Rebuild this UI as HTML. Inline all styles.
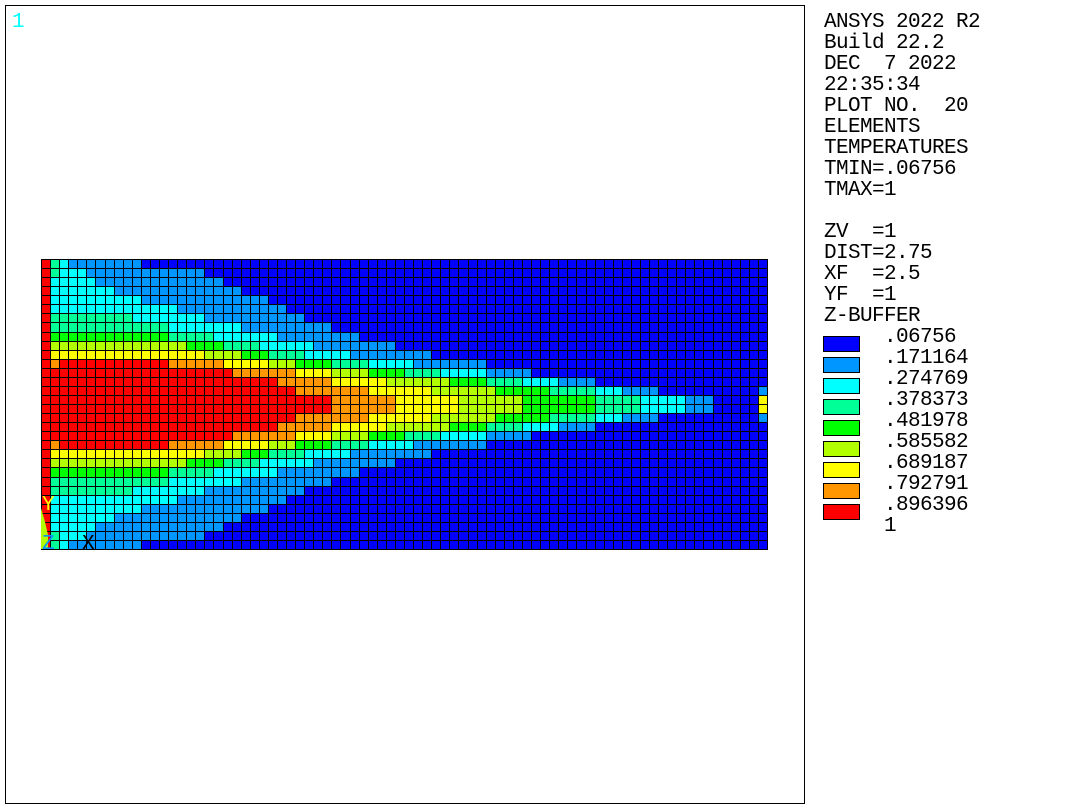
<!DOCTYPE html>
<html lang="en">
<head>
<meta charset="utf-8">
<title>ANSYS element temperatures</title>
<style>
html,body{margin:0;padding:0;background:#fff;width:1077px;height:810px;overflow:hidden}
svg{display:block}
text{font-family:"Liberation Mono",monospace;font-size:21px;letter-spacing:-0.6px;white-space:pre}
</style>
</head>
<body>
<svg id="plot" width="1077" height="810" viewBox="0 0 1077 810" xmlns="http://www.w3.org/2000/svg">
<rect x="5.5" y="5.5" width="799" height="798" fill="#fff" stroke="#000" stroke-width="1" shape-rendering="crispEdges"/>
<text x="12" y="27" fill="#00ffff">1</text>
<g id="heatmap"></g>
<polygon points="41,508 45,522 48,535 48,549 41,549" fill="#b2ff00"/>
<text x="42" y="510" fill="#ffff00">Y</text>
<text x="42" y="549" fill="#0096ff">Z</text>
<text x="82" y="549" fill="#000">X</text>
<g fill="#000">
<text x="824" y="27">ANSYS 2022 R2</text>
<text x="824" y="48">Build 22.2</text>
<text x="824" y="69">DEC  7 2022</text>
<text x="824" y="90">22:35:34</text>
<text x="824" y="111">PLOT NO.  20</text>
<text x="824" y="132">ELEMENTS</text>
<text x="824" y="153">TEMPERATURES</text>
<text x="824" y="174">TMIN=.06756</text>
<text x="824" y="195">TMAX=1</text>
<text x="824" y="237">ZV  =1</text>
<text x="824" y="258">DIST=2.75</text>
<text x="824" y="279">XF  =2.5</text>
<text x="824" y="300">YF  =1</text>
<text x="824" y="321">Z-BUFFER</text>
</g>
<g id="legend"></g>
</svg>
<script>
const legendLabels = [".06756", ".171164", ".274769", ".378373", ".481978", ".585582", ".689187", ".792791", ".896396", "1"];
const bandColors = ["#0000ff", "#0096ff", "#00ffff", "#00ff96", "#00ff00", "#b2ff00", "#ffff00", "#ff9600", "#ff0000"];
const temperatureBands = [
[8,3,2,1,1,1,1,1,1,1,1,0,0,0,0,0,0,0,0,0,0,0,0,0,0,0,0,0,0,0,0,0,0,0,0,0,0,0,0,0,0,0,0,0,0,0,0,0,0,0,0,0,0,0,0,0,0,0,0,0,0,0,0,0,0,0,0,0,0,0,0,0,0,0,0,0,0,0,0,0],
[8,3,2,2,2,1,1,1,1,1,1,1,1,1,1,1,1,1,0,0,0,0,0,0,0,0,0,0,0,0,0,0,0,0,0,0,0,0,0,0,0,0,0,0,0,0,0,0,0,0,0,0,0,0,0,0,0,0,0,0,0,0,0,0,0,0,0,0,0,0,0,0,0,0,0,0,0,0,0,0],
[8,2,2,2,2,2,1,1,1,1,1,1,1,1,1,1,1,1,1,1,0,0,0,0,0,0,0,0,0,0,0,0,0,0,0,0,0,0,0,0,0,0,0,0,0,0,0,0,0,0,0,0,0,0,0,0,0,0,0,0,0,0,0,0,0,0,0,0,0,0,0,0,0,0,0,0,0,0,0,0],
[8,2,2,2,2,2,2,2,1,1,1,1,1,1,1,1,1,1,1,1,1,1,0,0,0,0,0,0,0,0,0,0,0,0,0,0,0,0,0,0,0,0,0,0,0,0,0,0,0,0,0,0,0,0,0,0,0,0,0,0,0,0,0,0,0,0,0,0,0,0,0,0,0,0,0,0,0,0,0,0],
[8,2,2,2,2,2,2,2,2,2,2,1,1,1,1,1,1,1,1,1,1,1,1,1,1,0,0,0,0,0,0,0,0,0,0,0,0,0,0,0,0,0,0,0,0,0,0,0,0,0,0,0,0,0,0,0,0,0,0,0,0,0,0,0,0,0,0,0,0,0,0,0,0,0,0,0,0,0,0,0],
[8,2,2,2,2,2,2,2,2,2,2,2,2,2,2,1,1,1,1,1,1,1,1,1,1,1,1,0,0,0,0,0,0,0,0,0,0,0,0,0,0,0,0,0,0,0,0,0,0,0,0,0,0,0,0,0,0,0,0,0,0,0,0,0,0,0,0,0,0,0,0,0,0,0,0,0,0,0,0,0],
[8,3,3,3,3,3,3,3,3,3,2,2,2,2,2,2,2,2,1,1,1,1,1,1,1,1,1,1,1,0,0,0,0,0,0,0,0,0,0,0,0,0,0,0,0,0,0,0,0,0,0,0,0,0,0,0,0,0,0,0,0,0,0,0,0,0,0,0,0,0,0,0,0,0,0,0,0,0,0,0],
[8,3,3,3,3,3,3,3,3,3,3,3,3,3,2,2,2,2,2,2,2,2,1,1,1,1,1,1,1,1,1,1,0,0,0,0,0,0,0,0,0,0,0,0,0,0,0,0,0,0,0,0,0,0,0,0,0,0,0,0,0,0,0,0,0,0,0,0,0,0,0,0,0,0,0,0,0,0,0,0],
[8,4,4,4,4,4,4,4,4,4,4,4,4,4,3,3,3,3,3,2,2,2,2,2,2,2,1,1,1,1,1,1,1,1,1,0,0,0,0,0,0,0,0,0,0,0,0,0,0,0,0,0,0,0,0,0,0,0,0,0,0,0,0,0,0,0,0,0,0,0,0,0,0,0,0,0,0,0,0,0],
[8,5,5,5,5,5,5,5,5,5,5,5,5,5,5,5,4,4,4,4,3,3,3,3,2,2,2,2,2,2,1,1,1,1,1,1,1,1,1,0,0,0,0,0,0,0,0,0,0,0,0,0,0,0,0,0,0,0,0,0,0,0,0,0,0,0,0,0,0,0,0,0,0,0,0,0,0,0,0,0],
[8,6,6,6,6,6,6,6,6,6,6,6,6,6,6,6,6,6,5,5,5,5,4,4,4,3,3,3,3,2,2,2,2,2,1,1,1,1,1,1,1,1,1,0,0,0,0,0,0,0,0,0,0,0,0,0,0,0,0,0,0,0,0,0,0,0,0,0,0,0,0,0,0,0,0,0,0,0,0,0],
[8,7,8,8,8,8,8,8,8,8,8,8,8,8,7,7,7,7,7,7,6,6,6,6,6,5,5,5,4,4,4,4,3,3,3,3,2,2,2,2,2,1,1,1,1,1,1,1,1,0,0,0,0,0,0,0,0,0,0,0,0,0,0,0,0,0,0,0,0,0,0,0,0,0,0,0,0,0,0,0],
[8,8,8,8,8,8,8,8,8,8,8,8,8,8,8,8,8,8,8,8,8,7,7,7,7,7,7,7,6,6,6,6,5,5,5,5,4,4,4,4,3,3,3,3,2,2,2,2,2,1,1,1,1,1,0,0,0,0,0,0,0,0,0,0,0,0,0,0,0,0,0,0,0,0,0,0,0,0,0,0],
[8,8,8,8,8,8,8,8,8,8,8,8,8,8,8,8,8,8,8,8,8,8,8,8,8,8,7,7,7,7,7,7,6,6,6,6,6,6,5,5,5,5,5,5,5,4,4,4,4,3,3,3,3,2,2,2,2,1,1,1,1,0,0,0,0,0,0,0,0,0,0,0,0,0,0,0,0,0,0,0],
[8,8,8,8,8,8,8,8,8,8,8,8,8,8,8,8,8,8,8,8,8,8,8,8,8,8,8,8,7,7,7,7,7,7,7,7,6,6,6,6,6,6,6,5,5,5,5,5,5,5,4,4,4,4,4,4,3,3,3,3,3,2,2,2,1,1,1,1,0,0,0,0,0,0,0,0,0,0,0,1],
[8,8,8,8,8,8,8,8,8,8,8,8,8,8,8,8,8,8,8,8,8,8,8,8,8,8,8,8,8,8,8,8,7,7,7,7,7,7,7,6,6,6,6,6,6,6,5,5,5,5,5,5,5,4,4,4,4,4,4,4,4,3,3,3,3,3,2,2,2,2,2,1,1,1,0,0,0,0,0,6],
[8,8,8,8,8,8,8,8,8,8,8,8,8,8,8,8,8,8,8,8,8,8,8,8,8,8,8,8,8,8,8,8,7,7,7,7,7,7,7,6,6,6,6,6,6,6,5,5,5,5,5,5,5,4,4,4,4,4,4,4,4,3,3,3,3,3,2,2,2,2,2,1,1,1,0,0,0,0,0,6],
[8,8,8,8,8,8,8,8,8,8,8,8,8,8,8,8,8,8,8,8,8,8,8,8,8,8,8,8,7,7,7,7,7,7,7,7,6,6,6,6,6,6,6,5,5,5,5,5,5,5,4,4,4,4,4,4,3,3,3,3,3,2,2,2,1,1,1,1,0,0,0,0,0,0,0,0,0,0,0,1],
[8,8,8,8,8,8,8,8,8,8,8,8,8,8,8,8,8,8,8,8,8,8,8,8,8,8,7,7,7,7,7,7,6,6,6,6,6,6,5,5,5,5,5,5,5,4,4,4,4,3,3,3,3,2,2,2,2,1,1,1,1,0,0,0,0,0,0,0,0,0,0,0,0,0,0,0,0,0,0,0],
[8,8,8,8,8,8,8,8,8,8,8,8,8,8,8,8,8,8,8,8,8,7,7,7,7,7,7,7,6,6,6,6,5,5,5,5,4,4,4,4,3,3,3,3,2,2,2,2,2,1,1,1,1,1,0,0,0,0,0,0,0,0,0,0,0,0,0,0,0,0,0,0,0,0,0,0,0,0,0,0],
[8,7,8,8,8,8,8,8,8,8,8,8,8,8,7,7,7,7,7,7,6,6,6,6,6,5,5,5,4,4,4,4,3,3,3,3,2,2,2,2,2,1,1,1,1,1,1,1,1,0,0,0,0,0,0,0,0,0,0,0,0,0,0,0,0,0,0,0,0,0,0,0,0,0,0,0,0,0,0,0],
[8,6,6,6,6,6,6,6,6,6,6,6,6,6,6,6,6,6,5,5,5,5,4,4,4,3,3,3,3,2,2,2,2,2,1,1,1,1,1,1,1,1,1,0,0,0,0,0,0,0,0,0,0,0,0,0,0,0,0,0,0,0,0,0,0,0,0,0,0,0,0,0,0,0,0,0,0,0,0,0],
[8,5,5,5,5,5,5,5,5,5,5,5,5,5,5,5,4,4,4,4,3,3,3,3,2,2,2,2,2,2,1,1,1,1,1,1,1,1,1,0,0,0,0,0,0,0,0,0,0,0,0,0,0,0,0,0,0,0,0,0,0,0,0,0,0,0,0,0,0,0,0,0,0,0,0,0,0,0,0,0],
[8,4,4,4,4,4,4,4,4,4,4,4,4,4,3,3,3,3,3,2,2,2,2,2,2,2,1,1,1,1,1,1,1,1,1,0,0,0,0,0,0,0,0,0,0,0,0,0,0,0,0,0,0,0,0,0,0,0,0,0,0,0,0,0,0,0,0,0,0,0,0,0,0,0,0,0,0,0,0,0],
[8,3,3,3,3,3,3,3,3,3,3,3,3,3,2,2,2,2,2,2,2,2,1,1,1,1,1,1,1,1,1,1,0,0,0,0,0,0,0,0,0,0,0,0,0,0,0,0,0,0,0,0,0,0,0,0,0,0,0,0,0,0,0,0,0,0,0,0,0,0,0,0,0,0,0,0,0,0,0,0],
[8,3,3,3,3,3,3,3,3,3,2,2,2,2,2,2,2,2,1,1,1,1,1,1,1,1,1,1,1,0,0,0,0,0,0,0,0,0,0,0,0,0,0,0,0,0,0,0,0,0,0,0,0,0,0,0,0,0,0,0,0,0,0,0,0,0,0,0,0,0,0,0,0,0,0,0,0,0,0,0],
[8,2,2,2,2,2,2,2,2,2,2,2,2,2,2,1,1,1,1,1,1,1,1,1,1,1,1,0,0,0,0,0,0,0,0,0,0,0,0,0,0,0,0,0,0,0,0,0,0,0,0,0,0,0,0,0,0,0,0,0,0,0,0,0,0,0,0,0,0,0,0,0,0,0,0,0,0,0,0,0],
[8,2,2,2,2,2,2,2,2,2,2,1,1,1,1,1,1,1,1,1,1,1,1,1,1,0,0,0,0,0,0,0,0,0,0,0,0,0,0,0,0,0,0,0,0,0,0,0,0,0,0,0,0,0,0,0,0,0,0,0,0,0,0,0,0,0,0,0,0,0,0,0,0,0,0,0,0,0,0,0],
[8,2,2,2,2,2,2,2,1,1,1,1,1,1,1,1,1,1,1,1,1,1,0,0,0,0,0,0,0,0,0,0,0,0,0,0,0,0,0,0,0,0,0,0,0,0,0,0,0,0,0,0,0,0,0,0,0,0,0,0,0,0,0,0,0,0,0,0,0,0,0,0,0,0,0,0,0,0,0,0],
[8,2,2,2,2,2,1,1,1,1,1,1,1,1,1,1,1,1,1,1,0,0,0,0,0,0,0,0,0,0,0,0,0,0,0,0,0,0,0,0,0,0,0,0,0,0,0,0,0,0,0,0,0,0,0,0,0,0,0,0,0,0,0,0,0,0,0,0,0,0,0,0,0,0,0,0,0,0,0,0],
[8,3,2,2,2,1,1,1,1,1,1,1,1,1,1,1,1,1,0,0,0,0,0,0,0,0,0,0,0,0,0,0,0,0,0,0,0,0,0,0,0,0,0,0,0,0,0,0,0,0,0,0,0,0,0,0,0,0,0,0,0,0,0,0,0,0,0,0,0,0,0,0,0,0,0,0,0,0,0,0],
[8,3,2,1,1,1,1,1,1,1,1,0,0,0,0,0,0,0,0,0,0,0,0,0,0,0,0,0,0,0,0,0,0,0,0,0,0,0,0,0,0,0,0,0,0,0,0,0,0,0,0,0,0,0,0,0,0,0,0,0,0,0,0,0,0,0,0,0,0,0,0,0,0,0,0,0,0,0,0,0]
];

const SVG_NS = "http://www.w3.org/2000/svg";
const columnCount = 80;
const gridLeft = 41, gridRight = 767, gridTop = 259, gridBottom = 549;
function xAxis(col) { return Math.round(gridLeft + (gridRight - gridLeft) * col / columnCount); }
function yAxis(row) { return Math.round(gridTop + (gridBottom - gridTop) * row / temperatureBands.length); }

const heatmap = document.getElementById("heatmap");
temperatureBands.forEach(function (bands, row) {
  bands.forEach(function (band, col) {
    const cell = document.createElementNS(SVG_NS, "rect");
    
    
    cell.setAttribute("x", xAxis(col) + 0.5);
    cell.setAttribute("y", yAxis(row) + 0.5);
    cell.setAttribute("width", xAxis(col + 1) - xAxis(col));
    cell.setAttribute("height", yAxis(row + 1) - yAxis(row));
    cell.setAttribute("fill", bandColors[band]);
    cell.setAttribute("stroke", "#000");
    cell.setAttribute("stroke-width", "1");
    cell.setAttribute("shape-rendering", "crispEdges");
    heatmap.appendChild(cell);
  });
});

const legend = document.getElementById("legend");
const legendTop = 336, legendStep = 21;
bandColors.forEach(function (color, i) {
  const swatch = document.createElementNS(SVG_NS, "rect");
  
  
  swatch.setAttribute("x", 823.5);
  swatch.setAttribute("y", legendTop + i * legendStep + 0.5);
  swatch.setAttribute("width", 36);
  swatch.setAttribute("height", 15);
  swatch.setAttribute("fill", color);
  swatch.setAttribute("stroke", "#000");
  swatch.setAttribute("shape-rendering", "crispEdges");
  legend.appendChild(swatch);
});
legendLabels.forEach(function (label, i) {
  const t = document.createElementNS(SVG_NS, "text");
  
  
  t.setAttribute("x", 884);
  t.setAttribute("y", 342 + i * legendStep);
  t.setAttribute("fill", "#000");
  t.textContent = label;
  legend.appendChild(t);
});
</script>
</body>
</html>
